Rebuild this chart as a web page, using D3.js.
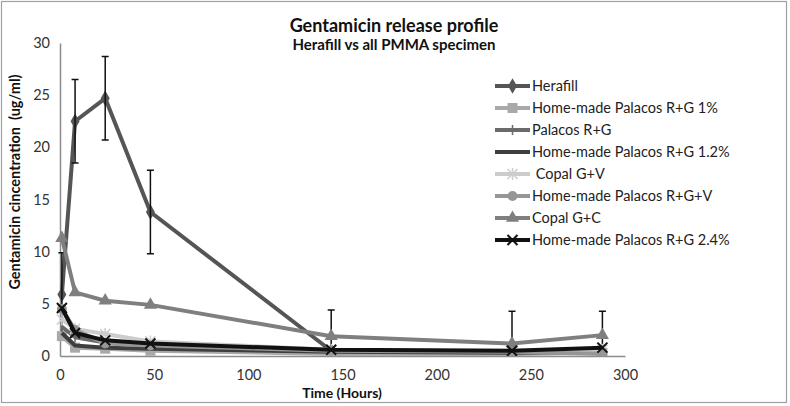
<!DOCTYPE html>
<html><head><meta charset="utf-8">
<script src="https://cdn.jsdelivr.net/npm/d3@7"></script>
<style>body{margin:0;background:#fff}svg{display:block;font-family:Lato,"Open Sans",sans-serif}</style>
</head><body><svg id="c" width="790" height="406"></svg>
<script>
const times = [1, 8, 24, 48, 144, 240, 288];
const seriesNames = ["Herafill","Home-made Palacos R+G 1%","Palacos R+G","Home-made Palacos R+G 1.2%"," Copal G+V","Home-made Palacos R+G+V","Copal G+C","Home-made Palacos R+G 2.4%"];
const herafill   = [5.9, 22.5, 24.7, 13.8, 0.5, 0.4, 0.4];
const hm1        = [1.9, 0.8, 0.7, 0.5, 0.2, 0.2, 0.3];
const palacos    = [2.8, 1.8, 1.3, 1.0, 0.5, 0.4, 0.5];
const hm12       = [2.2, 1.0, 0.8, 0.7, 0.4, 0.3, 0.4];
const copalGV    = [3.5, 2.6, 2.1, 1.4, 0.6, 0.5, 0.6];
const hmGV       = [4.5, 2.5, 1.2, 1.0, 0.5, 0.4, 0.2];
const copalGC    = [11.3, 6.1, 5.3, 4.9, 1.9, 1.2, 2.0];
const hm24       = [4.6, 2.2, 1.5, 1.2, 0.6, 0.5, 0.8];
const herafillErr = [4, 4, 4, 4, 3.9, 3.9, 3.9];
const xTicks = [0, 50, 100, 150, 200, 250, 300];
const yTicks = [0, 5, 10, 15, 20, 25, 30];

const values = [herafill, hm1, palacos, hm12, copalGV, hmGV, copalGC, hm24];
const colors = ["#555555","#a9a9a9","#6a6a6a","#3e3e3e","#cccccc","#969696","#7f7f7f","#111111"];
const markers = ["diamond","square","plus","none","asterisk","circle","triangle","x"];

const svg = d3.select("#c");
svg.append("rect").attr("x",1.5).attr("y",1.5).attr("width",785).attr("height",401).attr("fill","#fff").attr("stroke","#a0a0a0").attr("stroke-width",1.2);

const x = d3.scaleLinear().domain([0,300]).range([60,625]);
const y = d3.scaleLinear().domain([0,30]).range([356,43]);

svg.append("defs").append("clipPath").attr("id","clip").append("rect").attr("x",55).attr("y",43).attr("width",580).attr("height",313);

// axes
const gx = svg.append("g").attr("transform","translate(0,356)").call(d3.axisBottom(x).tickValues(xTicks).tickSize(0).tickPadding(14));
const gy = svg.append("g").attr("transform","translate(60,0)").call(d3.axisLeft(y).tickValues(yTicks).tickSize(0).tickPadding(10));
[gx,gy].forEach(g=>{g.select(".domain").attr("stroke","#8c8c8c").attr("stroke-width",1.5);
  g.selectAll("text").attr("font-family","Lato, sans-serif").attr("font-size",14.5).attr("fill","#333");});

// lines
const line = d3.line().x((d,i)=>x(times[i])).y(d=>y(d));
const plot = svg.append("g").attr("clip-path","url(#clip)");

function drawMarker(g, type, cx, cy, col) {
  if (type==="diamond") g.append("path").attr("d",d3.symbol(d3.symbolDiamond,70)()).attr("transform",`translate(${cx},${cy})`).attr("fill",col);
  else if (type==="square") g.append("rect").attr("x",cx-5).attr("y",cy-5).attr("width",10).attr("height",10).attr("fill",col);
  else if (type==="triangle") g.append("path").attr("d",d3.symbol(d3.symbolTriangle,75)()).attr("transform",`translate(${cx},${cy})`).attr("fill",col);
  else if (type==="circle") g.append("circle").attr("cx",cx).attr("cy",cy).attr("r",5).attr("fill",col);
  else if (type==="plus") g.append("path").attr("d",`M${cx},${cy-5}V${cy+5}`).attr("stroke",col).attr("stroke-width",1.5);
  else if (type==="x") g.append("path").attr("d",`M${cx-5},${cy-5}L${cx+5},${cy+5}M${cx-5},${cy+5}L${cx+5},${cy-5}`).attr("stroke",col).attr("stroke-width",2);
  else if (type==="asterisk") g.append("path").attr("d",`M${cx-5},${cy-5}L${cx+5},${cy+5}M${cx-5},${cy+5}L${cx+5},${cy-5}M${cx},${cy-6}V${cy+6}`).attr("stroke",col).attr("stroke-width",1.5);
}

values.forEach((vals,si)=>{
  plot.append("path").datum(vals).attr("d",line).attr("fill","none").attr("stroke",colors[si]).attr("stroke-width",4).attr("stroke-linejoin","round");
  vals.forEach((v,i)=>drawMarker(plot, markers[si], x(times[i]), y(v), colors[si]));
  if (si===0) {
    vals.forEach((v,i)=>{
      const cx = x(times[i]), y1 = y(v+herafillErr[i]), y0 = y(Math.max(v-herafillErr[i], 0));
      plot.append("path").attr("d",`M${cx},${y0}V${y1}M${cx-3.5},${y1}H${cx+3.5}` + (v-herafillErr[i]>0 ? `M${cx-3.5},${y0}H${cx+3.5}` : ""))
        .attr("stroke","#111").attr("stroke-width",1.5).attr("fill","none");
    });
  }
});

// titles
svg.append("text").attr("x",394).attr("y",32).attr("text-anchor","middle").attr("font-weight","bold").attr("font-size",18).attr("fill","#111").text("Gentamicin release profile");
svg.append("text").attr("x",394).attr("y",50).attr("text-anchor","middle").attr("font-weight","bold").attr("font-size",15).attr("fill","#111").text("Herafill vs all PMMA specimen");
svg.append("text").attr("x",342).attr("y",398).attr("text-anchor","middle").attr("font-weight","bold").attr("font-size",14).attr("fill","#111").text("Time (Hours)");
svg.append("text").attr("transform","translate(20,182) rotate(-90)").attr("text-anchor","middle").attr("font-weight","bold").attr("font-size",14.5).attr("fill","#111").attr("xml:space","preserve").text("Gentamicin cincentration  (ug/ml)");

// legend
const lg = svg.append("g");
seriesNames.forEach((n,i)=>{
  const ly = 86 + i*22;
  lg.append("path").attr("d",`M495,${ly}H530`).attr("stroke",colors[i]).attr("stroke-width",4);
  drawMarker(lg, markers[i], 512.5, ly, colors[i]);
  lg.append("text").attr("x",532).attr("y",ly+5).attr("font-size",14.5).attr("fill","#222").attr("xml:space","preserve").text(n);
});
</script></body></html>
